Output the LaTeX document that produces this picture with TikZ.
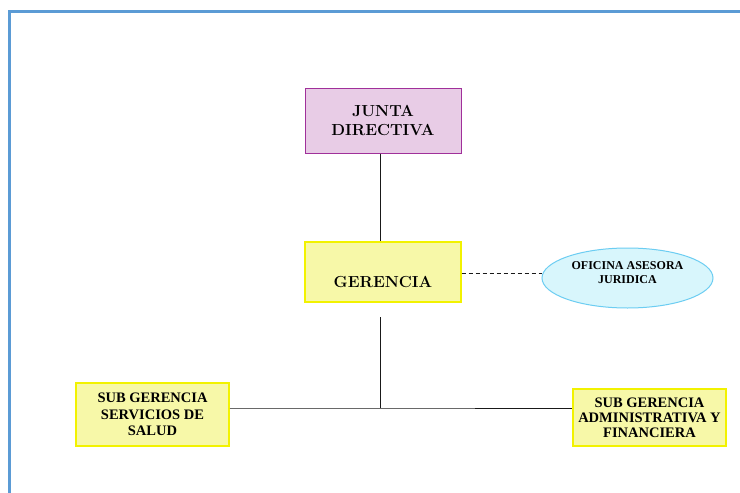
\documentclass[tikz,border=0pt]{standalone}
\usepackage{fontspec}
\newfontfamily\tnr{Liberation Serif}
\usetikzlibrary{shapes.geometric}
\definecolor{frameblue}{HTML}{5B9BD5}
\definecolor{juntafill}{HTML}{E8CCE6}
\definecolor{juntaline}{HTML}{A0309A}
\definecolor{yelfill}{HTML}{F7F8A8}
\definecolor{yelline}{HTML}{F2F200}
\definecolor{elfill}{HTML}{D8F6FC}
\definecolor{elline}{HTML}{6CCDF2}
\begin{document}
\begin{tikzpicture}[x=1pt,y=-1pt,
  box/.style={draw=yelline,fill=yelfill,line width=1.2pt,inner sep=0pt,align=center},
  bigtxt/.style={font=\fontsize{16}{19}\selectfont\bfseries},
  smalltxt/.style={font=\tnr\fontsize{14.5}{16}\selectfont\bfseries},
  conn/.style={draw=black!90,line width=1pt}]
\useasboundingbox (0,0) rectangle (740,493);
\fill[white] (0,0) rectangle (740,493);
\draw[frameblue,line width=3pt] (9.5,493) -- (9.5,11.5) -- (740,11.5);
\node[box,draw=juntaline,fill=juntafill,line width=1pt,minimum width=156pt,minimum height=65pt,bigtxt] (junta) at (383,120.5) {JUNTA\\DIRECTIVA};
\node[box,minimum width=156pt,minimum height=60pt] (ger) at (383,272) {};
\node[bigtxt] (gertxt) at (383,282) {GERENCIA};
\node[ellipse,draw=elline,fill=elfill,line width=1pt,minimum width=171pt,minimum height=60pt,inner sep=0pt] (ofi) at (627.5,278) {};
\node[align=center,font=\tnr\fontsize{12}{14}\selectfont\bfseries] (ofitxt) at (627.5,273) {OFICINA ASESORA\\JURIDICA};
\node[box,minimum width=153pt,minimum height=63pt,smalltxt,font=\tnr\fontsize{14.5}{16.5}\selectfont\bfseries] (sub1) at (152.5,414.5) {SUB GERENCIA\\SERVICIOS DE\\SALUD};
\node[box,minimum width=153pt,minimum height=57pt,smalltxt,font=\tnr\fontsize{14.5}{15}\selectfont\bfseries] (sub2) at (649.5,417.5) {SUB GERENCIA\\ADMINISTRATIVA Y\\FINANCIERA};
\coordinate (top2) at (380,317);
\coordinate (junc) at (380,408);
\draw[conn] (junta.south -| junc) -- (ger.north -| junc);
\draw[conn] (top2) -- (junc);
\draw[conn] (sub1.east |- junc) -- (junc) -- (sub2.west |- junc);
\draw[conn,dashed,dash pattern=on 4pt off 3pt] (ger.east |- 0,273) -- (ofi.west |- 0,273);
\end{tikzpicture}
\end{document}
